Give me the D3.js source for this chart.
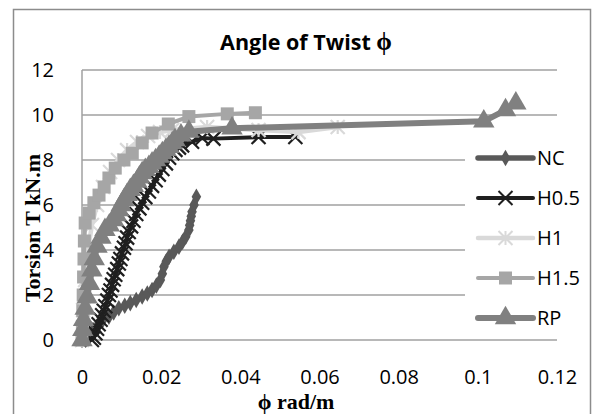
<!DOCTYPE html>
<html>
<head>
<meta charset="utf-8">
<script src="https://cdn.jsdelivr.net/npm/d3@7"></script>
<style>
  body { margin: 0; background: #fff; }
  svg { display: block; }
</style>
</head>
<body>
<div id="chart"></div>
<script>
// values: [phi rad/m, torsion kN.m]
var seriesNames = ["NC", "H0.5", "H1", "H1.5", "RP"];
var ncData = [[0,0],[0.0014,0.22],[0.0028,0.44],[0.004,0.67],[0.0053,0.9],[0.0068,1.04],[0.008,1.22],
  [0.0093,1.41],[0.0108,1.52],[0.0122,1.64],[0.0137,1.78],[0.0152,1.93],[0.0165,2.07],[0.0177,2.22],
  [0.0188,2.42],[0.0198,2.67],[0.0203,2.95],[0.0207,3.26],[0.0213,3.5],[0.022,3.7],[0.0232,3.92],
  [0.0245,4.15],[0.0254,4.37],[0.0262,4.59],[0.027,4.89],[0.0272,5.1],[0.0274,5.3],[0.0276,5.5],
  [0.0278,5.7],[0.0283,6.0],[0.0289,6.37]];
var h05Data = [[0.0025,0],[0.003,0.1],[0.0034,0.3],[0.0038,0.5],[0.0042,0.7],[0.0047,0.9],[0.0051,1.1],
  [0.0055,1.3],[0.0059,1.5],[0.0064,1.75],[0.0068,2.0],[0.0072,2.2],[0.0076,2.45],[0.008,2.7],
  [0.0084,2.9],[0.0089,3.15],[0.0093,3.4],[0.0097,3.6],[0.0101,3.85],[0.0106,4.1],[0.011,4.3],
  [0.0114,4.55],[0.0118,4.8],[0.0124,5.05],[0.013,5.3],[0.0137,5.6],[0.0145,5.85],[0.0152,6.1],
  [0.016,6.35],[0.0169,6.6],[0.0177,6.85],[0.0186,7.1],[0.0194,7.35],[0.0203,7.6],[0.0212,7.85],
  [0.022,8.1],[0.0228,8.3],[0.0236,8.45],[0.0245,8.55],[0.0253,8.65],[0.0278,8.81],[0.0304,8.98],
  [0.0332,8.95],[0.0446,9.02],[0.0539,9.02]];
var h1Data = [[0,0],[0.0003,1.33],[0.0008,2.67],[0.0015,4.0],[0.0025,5.11],[0.0038,6.0],[0.0053,6.8],
  [0.0071,7.47],[0.0091,8.0],[0.0114,8.44],[0.0139,8.8],[0.0167,9.07],[0.0197,9.24],[0.0228,9.33],
  [0.0316,9.47],[0.0446,9.33],[0.0547,9.24],[0.0646,9.47]];
var h15Data = [[0,0],[0.0001,0.6],[0.0002,1.3],[0.0003,2.0],[0.0004,2.8],[0.0005,3.6],[0.0006,4.4],
  [0.0008,5.2],[0.0018,5.64],[0.003,6.1],[0.0043,6.44],[0.0056,6.8],[0.0068,7.2],[0.0084,7.64],
  [0.0106,8.0],[0.0127,8.3],[0.0152,8.76],[0.0177,9.2],[0.0218,9.6],[0.027,9.93],[0.0367,10.05],[0.0438,10.1]];
var rpData = [[0,0],[0.0002,0.45],[0.0004,0.9],[0.0008,1.4],[0.0013,1.9],[0.0019,2.5],[0.0025,3.1],
  [0.0031,3.6],[0.0038,4.15],[0.0048,4.55],[0.0058,4.9],[0.0069,5.1],[0.008,5.33],[0.0087,5.55],
  [0.0093,5.78],[0.0099,6.0],[0.0106,6.22],[0.0114,6.45],[0.0122,6.67],[0.013,6.85],[0.0139,7.04],
  [0.0145,7.23],[0.0152,7.42],[0.016,7.56],[0.0169,7.7],[0.0177,7.85],[0.0186,8.0],[0.0195,8.15],
  [0.0203,8.31],[0.0212,8.45],[0.022,8.59],[0.0228,8.75],[0.0235,8.89],[0.025,9.1],[0.027,9.26],
  [0.0379,9.41],[0.1015,9.72],[0.107,10.22],[0.1096,10.52]];
var xTicks = [0, 0.02, 0.04, 0.06, 0.08, 0.1, 0.12];
var yTicks = [0, 2, 4, 6, 8, 10, 12];

var W = 597, H = 414;
var plotL = 82, plotR = 557, plotT = 70, plotB = 340;
var numFont = "'Open Sans', sans-serif";
var serif = "'Liberation Serif', 'Times New Roman', serif";

var series = [
  {name: "NC",   data: ncData,  color: "#595959", width: 5.5, marker: "diamond"},
  {name: "H0.5", data: h05Data, color: "#1f1f1f", width: 4,   marker: "x"},
  {name: "H1",   data: h1Data,  color: "#d9d9d9", width: 4.5, marker: "star"},
  {name: "H1.5", data: h15Data, color: "#a6a6a6", width: 4,   marker: "square"},
  {name: "RP",   data: rpData,  color: "#808080", width: 6,   marker: "triangle"}
];

var svg = d3.select("#chart").append("svg").attr("width", W).attr("height", H);

// chart border
svg.append("rect").attr("x", 13.5).attr("y", 9.5).attr("width", 577).attr("height", 420)
  .attr("fill", "#fff").attr("stroke", "#8c8c8c").attr("stroke-width", 1.5);

var x = d3.scaleLinear().domain([0, 0.12]).range([plotL, plotR]);
var y = d3.scaleLinear().domain([0, 12]).range([plotB, plotT]);

// gridlines
svg.append("g").selectAll("line").data(yTicks).enter().append("line")
  .attr("x1", plotL).attr("x2", plotR)
  .attr("y1", function(d) { return y(d); }).attr("y2", function(d) { return y(d); })
  .attr("stroke", "#a0a0a0").attr("stroke-width", 1.5);
svg.append("line").attr("x1", plotL).attr("x2", plotL).attr("y1", plotT).attr("y2", plotB)
  .attr("stroke", "#a0a0a0").attr("stroke-width", 1.5);

// axes (labels only)
var xAxis = svg.append("g").attr("transform", "translate(0," + (plotB + 27) + ")")
  .call(d3.axisBottom(x).tickValues(xTicks).tickSize(0).tickFormat(function(d) { return String(+d.toFixed(2)); }));
var yAxis = svg.append("g").attr("transform", "translate(" + (plotL - 25) + ",0)")
  .call(d3.axisLeft(y).tickValues(yTicks).tickSize(0).tickFormat(d3.format("d")));
[xAxis, yAxis].forEach(function(a) {
  a.select(".domain").remove();
  a.selectAll("text").attr("font-family", numFont).attr("font-size", "20px").attr("fill", "#000");
});

function markerPath(type, s) {
  var h = s / 2;
  if (type === "x") return "M" + -h + "," + -h + "L" + h + "," + h + "M" + -h + "," + h + "L" + h + "," + -h;
  if (type === "star") return "M" + -h + "," + -h + "L" + h + "," + h + "M" + -h + "," + h + "L" + h + "," + -h + "M0," + -h + "L0," + h;
  if (type === "diamond") return d3.symbol(d3.symbolDiamond, s * s * 0.55)();
  if (type === "square") return d3.symbol(d3.symbolSquare, s * s)();
  return d3.symbol(d3.symbolTriangle, s * s * 0.55)();
}
var markerSize = {diamond: 12, x: 14, star: 14, square: 13, triangle: 19};

var line = d3.line().x(function(d) { return x(d[0]); }).y(function(d) { return y(d[1]); });

series.forEach(function(s) {
  var g = svg.append("g");
  g.append("path").attr("d", line(s.data)).attr("fill", "none")
    .attr("stroke", s.color).attr("stroke-width", s.width).attr("stroke-linejoin", "round");
  var stroked = s.marker === "x" || s.marker === "star";
  g.selectAll("path.m").data(s.data).enter().append("path").attr("class", "m")
    .attr("transform", function(d) { return "translate(" + x(d[0]) + "," + y(d[1]) + ")"; })
    .attr("d", markerPath(s.marker, markerSize[s.marker]))
    .attr("fill", stroked ? "none" : s.color)
    .attr("stroke", stroked ? s.color : "none")
    .attr("stroke-width", 2.2);
});

// legend
var legend = svg.append("g");
legend.append("rect").attr("x", 465).attr("y", 138).attr("width", 122).attr("height", 198).attr("fill", "#fff");
series.forEach(function(s, i) {
  var ly = 158 + i * 40;
  legend.append("line").attr("x1", 478).attr("x2", 533).attr("y1", ly).attr("y2", ly)
    .attr("stroke", s.color).attr("stroke-width", s.width).attr("stroke-linecap", "round");
  var stroked = s.marker === "x" || s.marker === "star";
  legend.append("path").attr("transform", "translate(505.5," + ly + ")")
    .attr("d", markerPath(s.marker, markerSize[s.marker]))
    .attr("fill", stroked ? "none" : s.color)
    .attr("stroke", stroked ? s.color : "none").attr("stroke-width", 2);
  legend.append("text").attr("x", 537).attr("y", ly + 7).text(s.name)
    .attr("font-family", numFont).attr("font-size", "20px").attr("fill", "#000");
});

// titles
var title = svg.append("text").attr("x", 306).attr("y", 50).attr("text-anchor", "middle")
  .attr("font-family", numFont).attr("font-size", "21.5px").attr("font-weight", "bold");
title.append("tspan").text("Angle of Twist ");
title.append("tspan").attr("font-family", serif).attr("font-size", "25px").text("ϕ");

svg.append("text").attr("transform", "translate(40,228) rotate(-90)").attr("text-anchor", "middle")
  .attr("font-family", serif).attr("font-size", "22px").attr("font-weight", "bold").text("Torsion T kN.m");
svg.append("text").attr("x", 296).attr("y", 409).attr("text-anchor", "middle")
  .attr("font-family", serif).attr("font-size", "22px").attr("font-weight", "bold").text("ϕ rad/m");
</script>
</body>
</html>
